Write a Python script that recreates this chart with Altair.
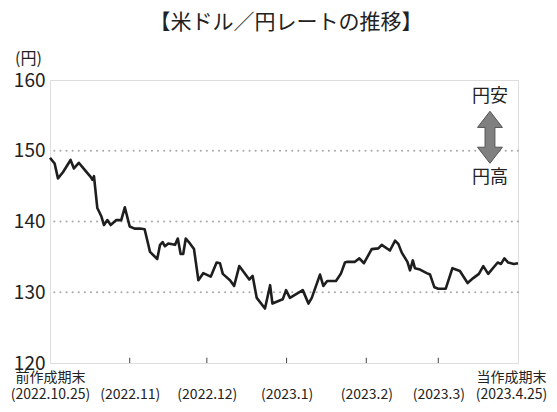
import altair as alt
import pandas as pd

# day offset from 2022-10-25 and USD/JPY rate
days = [0.0, 1.8, 3.1, 5.1, 8.0, 9.3, 11.2, 13.5, 15.8, 16.5, 17.1, 18.4, 20.0, 21.0, 22.3, 23.6,
        25.8, 27.7, 29.1, 31.0, 32.9, 35.0, 36.8, 38.9, 41.7, 42.8, 43.8, 44.7, 46.0, 48.6, 49.7,
        50.8, 51.8, 52.8, 54.4, 56.0, 57.7, 59.6, 62.5, 64.8, 66.1, 67.2, 70.0, 71.6, 73.6, 77.5,
        78.8, 80.4, 83.6, 85.6, 86.5, 90.5, 91.8, 93.3, 98.3, 100.5, 101.8, 105.0, 106.3, 107.8,
        111.2, 113.1, 114.7, 115.6, 118.6, 120.3, 122.1, 125.1, 127.7, 129.0, 132.2, 134.2, 135.5,
        136.8, 139.0, 140.0, 141.1, 141.9, 143.9, 146.5, 147.8, 149.5, 151.0, 153.9, 156.5, 159.4,
        162.4, 164.6, 166.8, 168.5, 170.4, 174.1, 175.4, 176.7, 178.2, 180.4, 182.0]
rates = [149.0, 148.2, 146.1, 147.0, 148.7, 147.5, 148.3, 147.3, 146.3, 145.9, 146.4, 141.9, 140.7,
         139.5, 140.2, 139.5, 140.2, 140.2, 142.0, 139.3, 139.0, 139.0, 138.9, 135.7, 134.7, 136.7,
         137.1, 136.5, 136.9, 136.7, 137.6, 135.4, 135.4, 137.6, 136.9, 136.1, 131.7, 132.7, 132.2,
         134.2, 134.1, 132.6, 131.7, 130.9, 133.7, 131.8, 132.3, 129.2, 127.7, 131.0, 128.4, 129.0,
         130.3, 129.2, 130.3, 128.4, 129.2, 132.5, 130.9, 131.6, 131.6, 132.6, 134.2, 134.3, 134.3,
         134.8, 134.1, 136.1, 136.2, 136.7, 135.9, 137.3, 136.8, 135.6, 134.3, 133.1, 134.5, 133.4,
         133.2, 132.7, 132.5, 130.7, 130.5, 130.5, 133.4, 133.0, 131.3, 132.0, 132.6, 133.7, 132.6,
         134.2, 134.0, 134.8, 134.2, 134.0, 134.1]

tick_days = [0, 31, 61, 92, 123, 151, 182]
tick_line1 = ["前作成期末", "", "", "", "", "", "当作成期末"]
tick_line2 = ["(2022.10.25)", "(2022.11)", "(2022.12)", "(2023.1)", "(2023.2)", "(2023.3)", "(2023.4.25)"]

y_ticks = [120, 130, 140, 150, 160]

title_text = "【米ドル／円レートの推移】"

FONT = "Noto Sans CJK JP"

df = pd.DataFrame({"day": days, "rate": rates})

label_expr = ""
for d, a, b in zip(tick_days, tick_line1, tick_line2):
    label_expr += f"datum.value == {d} ? ['{a}', '{b}'] : "
label_expr += "''"

xscale = alt.Scale(domain=[0, 182], nice=False, zero=False)
yscale = alt.Scale(domain=[120, 160], nice=False, zero=False)

base_x = alt.X("day:Q", scale=xscale,
               axis=alt.Axis(values=tick_days, labelExpr=label_expr, ticks=False, grid=False,
                             domain=False, labelFontSize=14, labelLineHeight=17, labelPadding=7,
                             labelColor="#222", labelFont=FONT, labelOverlap=False,
                             labelBound=False, labelFlush=False,
                             labelOffset={"condition": {"test": f"datum.value == {tick_days[-1]}",
                                                        "value": -7}, "value": 0}),
               title=None)
base_y = alt.Y("rate:Q", scale=yscale,
               axis=alt.Axis(values=y_ticks, ticks=False, grid=False, domain=False,
                             labelFontSize=19, labelPadding=5, labelColor="#222", labelFont=FONT,
                             title="(円)", titleAngle=0, titleFontSize=16, titleFontWeight="normal",
                             titleFont=FONT, titleColor="#222", titleAlign="center",
                             titleBaseline="middle", titleX=-22, titleY=-22))

# dotted grid lines
grid_df = pd.DataFrame({"rate": [130, 140, 150]})
grid = alt.Chart(grid_df).mark_rule(color="#aaaaaa", strokeWidth=2, strokeDash=[0.1, 6],
                                    strokeCap="round").encode(y=alt.Y("rate:Q", scale=yscale))

# inward ticks on the bottom axis
tick_df = pd.DataFrame({"day": tick_days[1:-1], "y0": [120] * 5, "y1": [120.75] * 5})
ticks = alt.Chart(tick_df).mark_rule(color="#444", strokeWidth=1).encode(
    x=alt.X("day:Q", scale=xscale), y=alt.Y("y0:Q", scale=yscale), y2="y1:Q")

line = alt.Chart(df).mark_line(color="#1e1e1e", strokeWidth=2.6, strokeJoin="round").encode(
    x=base_x, y=base_y)

# arrow annotation
arrow_path = ("M0,-1 L0.48,-0.38 L0.19,-0.38 L0.19,0.38 L0.48,0.38 L0,1 "
              "L-0.48,0.38 L-0.19,0.38 L-0.19,-0.38 L-0.48,-0.38 Z")
arrow_df = pd.DataFrame({"day": [171.1], "rate": [151.9]})
arrow = alt.Chart(arrow_df).mark_point(shape=arrow_path, size=2704, filled=True, fill="#808080",
                                       stroke="#555555", strokeWidth=1, opacity=1).encode(
    x=alt.X("day:Q", scale=xscale), y=alt.Y("rate:Q", scale=yscale))

ann_df = pd.DataFrame({"day": [171.1, 171.1], "rate": [157.6, 146.15], "txt": ["円安", "円高"]})
ann = alt.Chart(ann_df).mark_text(font=FONT, fontSize=18, color="#222", baseline="middle",
                                  align="center").encode(
    x=alt.X("day:Q", scale=xscale), y=alt.Y("rate:Q", scale=yscale), text="txt:N")

title = alt.Chart(pd.DataFrame({"t": [title_text]})).mark_text(
    font=FONT, fontSize=21, color="#222", baseline="middle", align="center").encode(
    x=alt.value(236), y=alt.value(-57), text="t:N")

chart = alt.layer(grid, ticks, line, arrow, ann, title).properties(
    width=468, height=283,
    autosize=alt.AutoSizeParams(type="none"),
    padding={"left": 42, "top": 72, "right": 31, "bottom": 40},
).configure_view(stroke="#444444", strokeWidth=1.2).configure(background="white")

chart.save("out.html", embed_options={"renderer": "svg", "actions": False})
